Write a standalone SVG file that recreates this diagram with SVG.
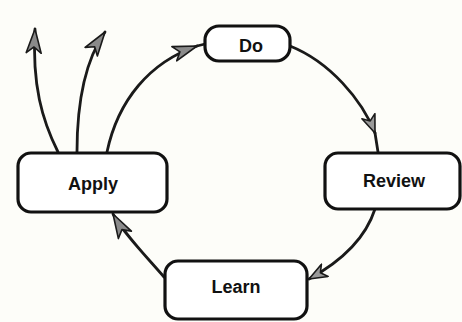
<svg xmlns="http://www.w3.org/2000/svg" width="462" height="322" viewBox="0 0 462 322">
<style>
.box{fill:#fff;stroke:#111;stroke-width:3.2}
.lbl{font-family:"Liberation Sans",Arial,sans-serif;font-weight:bold;font-size:18px;fill:#111;text-anchor:middle}
.con{fill:none;stroke:#1a1a1a;stroke-width:2.8;stroke-linecap:round}
</style>
<defs>
<marker id="ah" viewBox="0 0 26 18" refX="25" refY="9" markerWidth="26" markerHeight="18" markerUnits="userSpaceOnUse" orient="auto">
<path d="M1,1.5 L25,9 L1,16.5 L7,9 Z" fill="#8a8a8a" stroke="#1a1a1a" stroke-width="1.6" stroke-linejoin="round"/>
</marker>
<marker id="ahs" viewBox="0 0 20 16" refX="19" refY="8" markerWidth="20" markerHeight="16" markerUnits="userSpaceOnUse" orient="auto">
<path d="M1,1 L19,8 L1,15 L6,8 Z" fill="#9a9a9a" stroke="#1a1a1a" stroke-width="1.6" stroke-linejoin="round"/>
</marker>
</defs>
<rect width="462" height="322" fill="#fdfdf9"/>
<g id="connectors">
<path class="con" d="M58,152 C42,120 32,85 35,29" marker-end="url(#ah)"/>
<path class="con" d="M77,152 C77,105 84,62 105,32" marker-end="url(#ah)"/>
<path class="con" d="M107,152 C118,100 150,62 197,46" marker-end="url(#ah)"/>
<path class="con" d="M197,46 L205,44"/>
<path class="con" d="M290,46 C330,62 362,100 375,133" marker-end="url(#ahs)"/>
<path class="con" d="M375,133 L378,152"/>
<path class="con" d="M375,209 C365,240 340,262 309,279" marker-end="url(#ahs)"/>
<path class="con" d="M164,277 C145,255 125,235 113,214" marker-end="url(#ah)"/>
</g>
<g id="do"><rect class="box" x="205" y="26" width="85" height="35" rx="14"/><text class="lbl" x="251" y="52">Do</text></g>
<g id="review"><rect class="box" x="325" y="153" width="135" height="56" rx="13"/><text class="lbl" x="394" y="187">Review</text></g>
<g id="apply"><rect class="box" x="18" y="153" width="149" height="59" rx="13"/><text class="lbl" x="93" y="190">Apply</text></g>
<g id="learn"><rect class="box" x="165" y="261" width="142" height="58" rx="13"/><text class="lbl" x="236" y="293">Learn</text></g>
</svg>
